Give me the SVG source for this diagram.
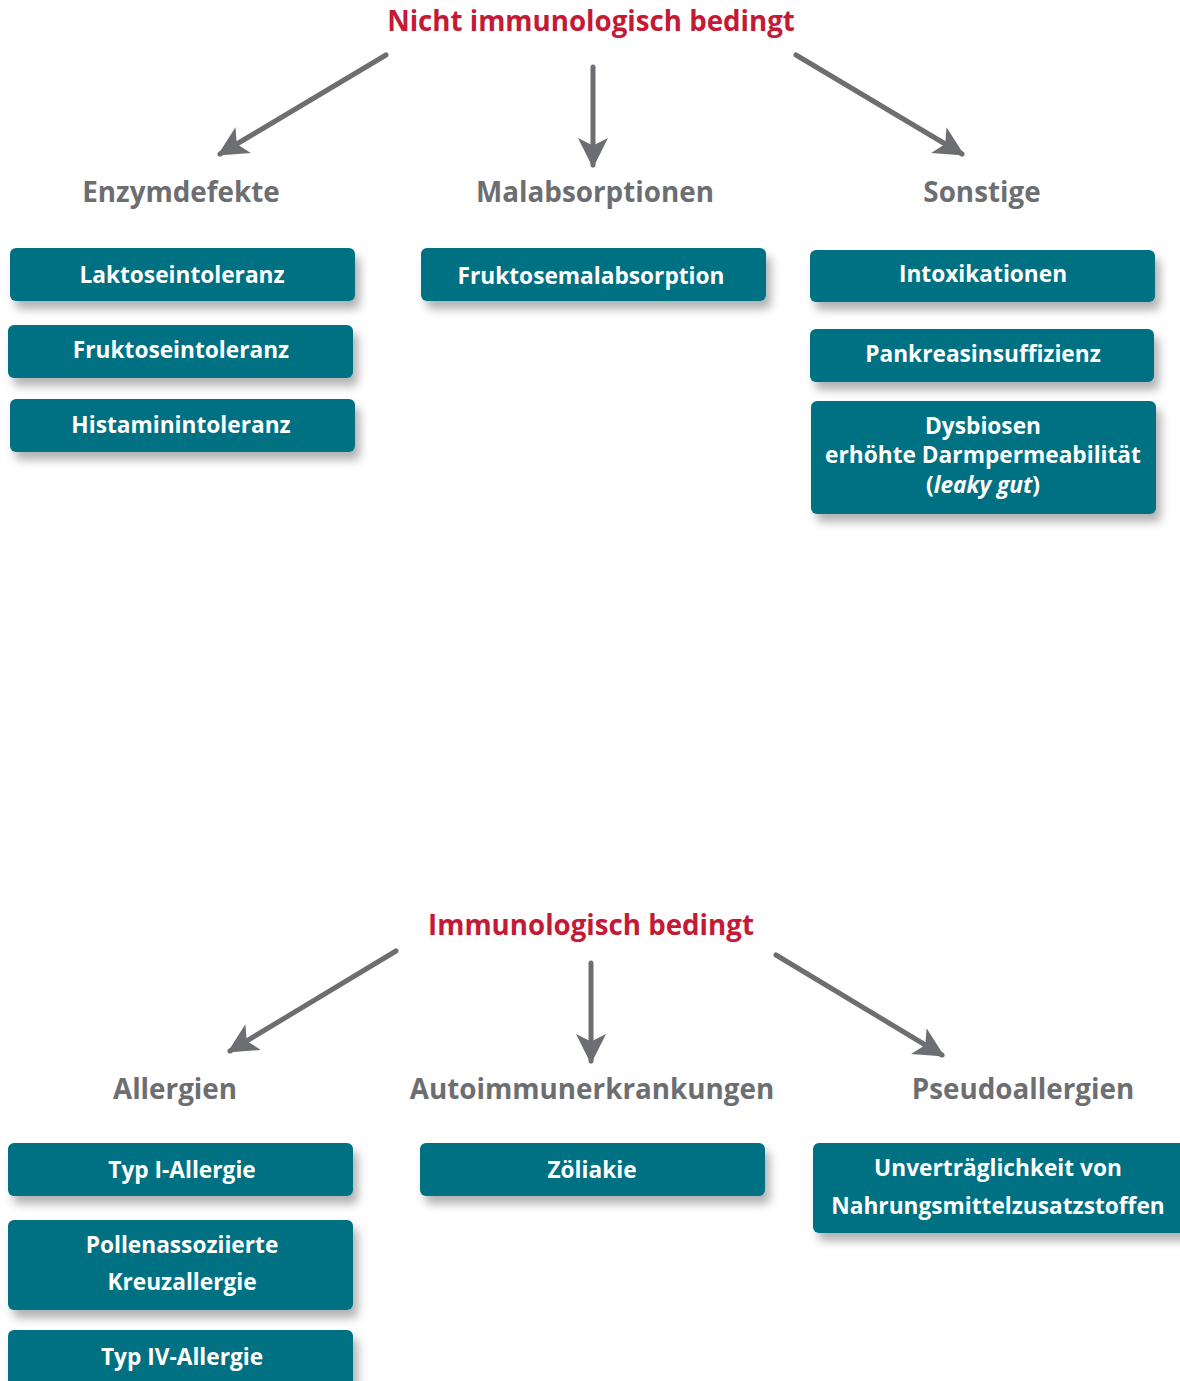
<svg xmlns="http://www.w3.org/2000/svg" width="1180" height="1381" viewBox="0 0 1180 1381">
<style>
.title{font-family:"Open Sans","Noto Sans",sans-serif;font-weight:700;font-size:27.7px;fill:#C41A35;text-anchor:middle}
.head{font-family:"Open Sans","Noto Sans",sans-serif;font-weight:700;font-size:27.8px;fill:#6D6E71;text-anchor:middle}
.box{fill:#037083;filter:url(#sh)}
.lbl{font-family:"Open Sans","Noto Sans",sans-serif;font-weight:700;font-size:22.7px;fill:#ffffff;text-anchor:middle}
.arr{stroke:#6D6E71;stroke-width:5;stroke-linecap:round;fill:none;marker-end:url(#ah)}
</style>
<defs>
<filter id="sh" x="-10%" y="-30%" width="130%" height="180%">
<feDropShadow dx="5" dy="8" stdDeviation="5" flood-color="#000" flood-opacity="0.3"/>
</filter>
<marker id="ah" viewBox="0 0 10 10" refX="9" refY="5" markerWidth="6" markerHeight="6" orient="auto" markerUnits="strokeWidth">
<path d="M0,0 L10,5 L0,10 L2.5,5 Z" fill="#6D6E71"/>
</marker>
</defs>
<rect width="1180" height="1381" fill="#ffffff"/>

<g id="title-top"><text class="title" x="591" y="31">Nicht immunologisch bedingt</text></g>
<g id="title-bottom"><text class="title" x="591" y="935">Immunologisch bedingt</text></g>

<g id="connectors">
<line class="arr" x1="386" y1="55" x2="220" y2="154"/>
<line class="arr" x1="593" y1="67" x2="593" y2="165"/>
<line class="arr" x1="796" y1="55" x2="962" y2="154"/>
<line class="arr" x1="396" y1="951" x2="230" y2="1051"/>
<line class="arr" x1="591" y1="963" x2="591" y2="1061"/>
<line class="arr" x1="776" y1="955" x2="942" y2="1055"/>
</g>

<g id="h-enzym"><text class="head" x="181" y="202">Enzymdefekte</text></g>
<g id="h-malab"><text class="head" x="595" y="202">Malabsorptionen</text></g>
<g id="h-sonst"><text class="head" x="982" y="202">Sonstige</text></g>
<g id="h-allerg"><text class="head" x="175" y="1099">Allergien</text></g>
<g id="h-auto"><text class="head" x="592" y="1099">Autoimmunerkrankungen</text></g>
<g id="h-pseudo"><text class="head" x="1023" y="1099">Pseudoallergien</text></g>

<g id="n-laktose"><rect class="box" x="10" y="248" width="345" height="53" rx="6"/><text class="lbl" x="182" y="283">Laktoseintoleranz</text></g>
<g id="n-fruktose"><rect class="box" x="8" y="325" width="345" height="53" rx="6"/><text class="lbl" x="181" y="358">Fruktoseintoleranz</text></g>
<g id="n-histamin"><rect class="box" x="10" y="399" width="345" height="53" rx="6"/><text class="lbl" x="181" y="433">Histaminintoleranz</text></g>
<g id="n-fruktosemal"><rect class="box" x="421" y="248" width="345" height="53" rx="6"/><text class="lbl" x="591" y="284">Fruktosemalabsorption</text></g>
<g id="n-intox"><rect class="box" x="810" y="250" width="345" height="52" rx="6"/><text class="lbl" x="983" y="282">Intoxikationen</text></g>
<g id="n-pankreas"><rect class="box" x="810" y="329" width="344" height="53" rx="6"/><text class="lbl" x="983" y="362">Pankreasinsuffizienz</text></g>
<g id="n-dysbiosen"><rect class="box" x="811" y="401" width="345" height="113" rx="6"/>
<text class="lbl" x="983" y="434">Dysbiosen</text>
<text class="lbl" x="983" y="463">erhöhte Darmpermeabilität</text>
<text class="lbl" x="983" y="493">(<tspan font-style="italic">leaky gut</tspan>)</text></g>

<g id="n-typ1"><rect class="box" x="8" y="1143" width="345" height="53" rx="6"/><text class="lbl" x="182" y="1178">Typ I-Allergie</text></g>
<g id="n-pollen"><rect class="box" x="8" y="1220" width="345" height="90" rx="6"/>
<text class="lbl" x="182" y="1253">Pollenassoziierte</text>
<text class="lbl" x="182" y="1290">Kreuzallergie</text></g>
<g id="n-typ4"><rect class="box" x="8" y="1330" width="345" height="60" rx="6"/><text class="lbl" x="182" y="1365">Typ IV-Allergie</text></g>
<g id="n-zoeliakie"><rect class="box" x="420" y="1143" width="345" height="53" rx="6"/><text class="lbl" x="592" y="1178">Zöliakie</text></g>
<g id="n-unvertr"><rect class="box" x="813" y="1143" width="380" height="90" rx="6"/>
<text class="lbl" x="998" y="1176">Unverträglichkeit von</text>
<text class="lbl" x="998" y="1214">Nahrungsmittelzusatzstoffen</text></g>
</svg>
